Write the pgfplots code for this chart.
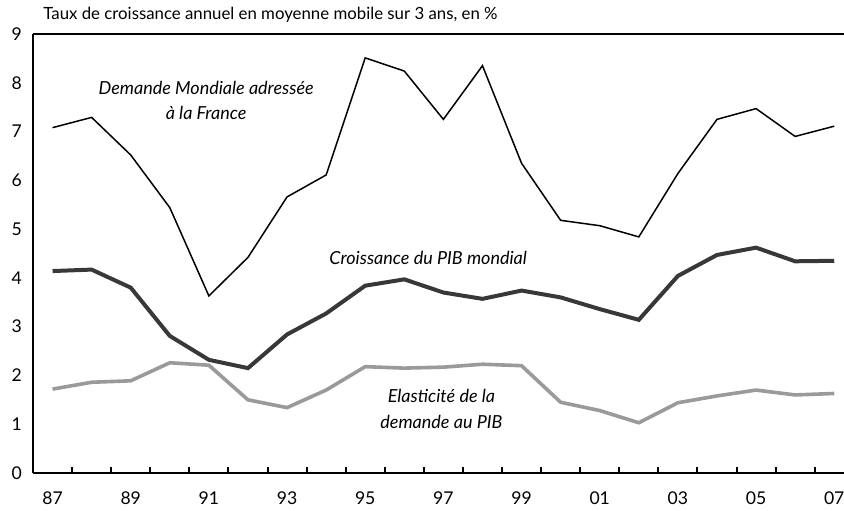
\documentclass[border=0pt]{standalone}
\usepackage{fontspec}
\setmainfont{Lato}
\usepackage{pgfplots}
\pgfplotsset{compat=1.18}
\usetikzlibrary{calc}
\definecolor{pibc}{HTML}{383838}
\definecolor{elac}{HTML}{9A9A9A}
\begin{document}
\begin{tikzpicture}
\begin{axis}[
  scale only axis, width=405.5pt, height=219.5pt,
  xmin=-0.5, xmax=20.25, ymin=0, ymax=9,
  axis x line*=bottom, axis y line*=left,
  axis line style={line width=1pt, -},
  xtick={0,2,...,20},
  xticklabels={87,89,91,93,95,97,99,01,03,05,07},
  minor xtick={0.5,1.5,...,20.5},
  ytick={0,1,...,9},
  major tick length=0pt, minor tick length=3.2pt,
  tick align=inside,
  minor tick style={line width=1pt, black},
  /pgf/number format/assume math mode=true,
  tick label style={font=\fontsize{8.8}{9}\selectfont},
  xticklabel style={yshift=-6pt},
  yticklabel style={xshift=-2pt},
  clip=false,
]
\addplot[black, line width=0.75pt] coordinates {
(0,7.08) (1,7.29) (2,6.52) (3,5.44) (4,3.63) (5,4.42) (6,5.66) (7,6.11)
(8,8.51) (9,8.24) (10,7.25) (11,8.35) (12,6.35) (13,5.18) (14,5.07)
(15,4.84) (16,6.14) (17,7.25) (18,7.47) (19,6.90) (20,7.11)};
\addplot[pibc, line width=2pt] coordinates {
(0,4.14) (1,4.17) (2,3.80) (3,2.81) (4,2.32) (5,2.15) (6,2.84) (7,3.27)
(8,3.84) (9,3.97) (10,3.70) (11,3.57) (12,3.74) (13,3.60) (14,3.36)
(15,3.14) (16,4.04) (17,4.47) (18,4.62) (19,4.34) (20,4.35)};
\addplot[elac, line width=1.8pt] coordinates {
(0,1.72) (1,1.86) (2,1.89) (3,2.26) (4,2.21) (5,1.50) (6,1.34) (7,1.70)
(8,2.18) (9,2.15) (10,2.17) (11,2.23) (12,2.20) (13,1.45) (14,1.28)
(15,1.03) (16,1.44) (17,1.58) (18,1.70) (19,1.60) (20,1.63)};
\draw[line width=1pt] (rel axis cs:0,1) -- (rel axis cs:1,1);
\node[font=\fontsize{9}{12.5}\selectfont\itshape, align=center] at (axis cs:3.93,7.64)
  {Demande Mondiale adressée\\à la France};
\node[font=\fontsize{9}{12.5}\selectfont\itshape] at (axis cs:9.61,4.41)
  {Croissance du PIB mondial};
\node[font=\fontsize{9}{13}\selectfont\itshape, align=center] at (axis cs:9.95,1.31)
  {Elasticité de la\\demande au PIB};
\coordinate (BL) at (rel axis cs:0,0);
\coordinate (TR) at (rel axis cs:1,1);
\coordinate (TL) at (rel axis cs:0,1);
\end{axis}
\node[anchor=base west, font=\fontsize{8.4}{9}\selectfont, inner sep=0pt] at ($(TL)+(5pt,7.2pt)$)
  {Taux de croissance annuel en moyenne mobile sur 3 ans, en \%};
\pgfresetboundingbox
\path ($(BL)+(-16.5pt,-19pt)$) rectangle ($(TR)+(0pt,17pt)$);
\end{tikzpicture}
\end{document}
